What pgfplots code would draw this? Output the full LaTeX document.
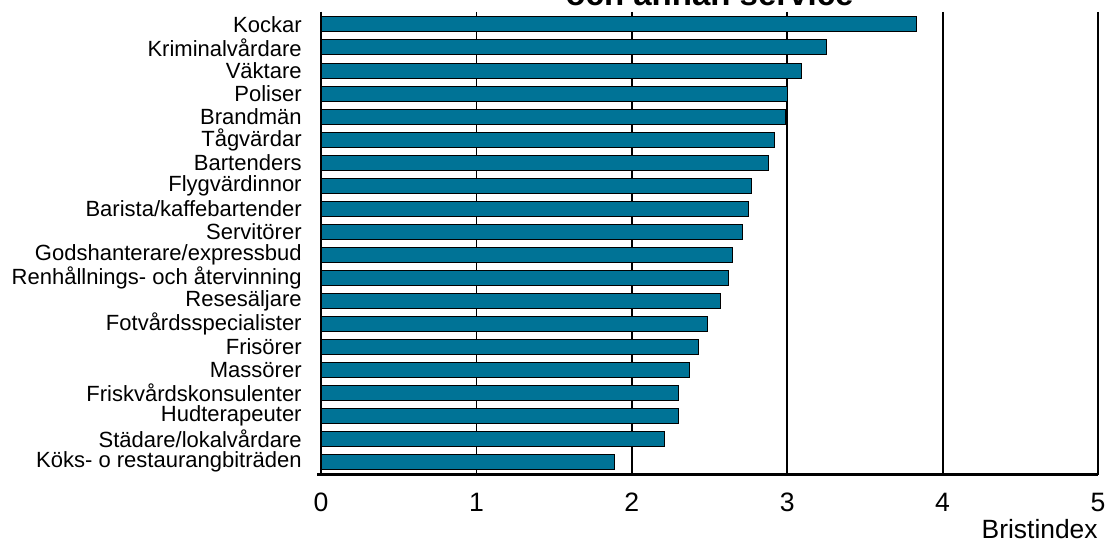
\documentclass[border=0pt]{standalone}
\usepackage{pgfplots}
\pgfplotsset{compat=1.18}
\usepackage{pgfplotstable}
\usepackage{fontspec}
\setmainfont{Liberation Sans}
\definecolor{barblue}{HTML}{007396}

\pgfplotstableread[col sep=comma]{
idx,value
0,3.83
1,3.25
2,3.09
3,3.00
4,2.99
5,2.92
6,2.88
7,2.77
8,2.75
9,2.71
10,2.65
11,2.62
12,2.57
13,2.49
14,2.43
15,2.37
16,2.30
17,2.30
18,2.21
19,1.89
}\bristdata

\newcommand{\tsp}{\hspace{2pt}}

\begin{document}
\begin{tikzpicture}
\begin{axis}[
    name=ax,
    scale only axis,
    width=388.5pt, height=231.5pt,
    xbar, bar width=7.5pt,
    xmin=0, xmax=5,
    ymin=-0.55, ymax=19.55,
    y dir=reverse,
    axis x line*=bottom,
    axis y line*=left,
    x axis line style={line width=1.6pt, shorten <=-2pt},
    y axis line style={line width=0.8pt},
    xtick={0,1,2,3,4,5},
    ytick={0,...,19},
    yticklabels={Kockar\tsp, Kriminalvårdare, Väktare\tsp, Poliser\tsp, Brandmän,
        Tågvärdar, Bartenders\tsp, Flygvärdinnor, Barista/kaffebartender, Servitörer\tsp,
        Godshanterare/expressbud, Renhållnings- och återvinning, Resesäljare\tsp,
        Fotvårdsspecialister\tsp, Frisörer\tsp, Massörer\tsp, Friskvårdskonsulenter,
        Hudterapeuter, Städare/lokalvårdare\tsp, Köks- o restaurangbiträden},
    major tick length=0pt,
    xmajorgrids=true,
    grid style={black, line width=0.9pt},
    /pgf/number format/assume math mode=true,
    xticklabel style={font=\fontsize{13.3}{15}\selectfont, inner sep=0pt, yshift=-9pt},
    yticklabel style={font=\fontsize{11}{13}\selectfont, inner sep=0pt, anchor=east, xshift=-9.5pt},
    xlabel={Bristindex},
    xlabel style={at={(axis description cs:1,0)}, anchor=north east, inner sep=0pt,
        yshift=-22.3pt, font=\fontsize{13.2}{15}\selectfont},
]
\addplot[fill=barblue, draw=black, line width=0.5pt] table[x=value, y=idx] {\bristdata};
\end{axis}
\node[anchor=base, font=\bfseries\fontsize{16.5}{19}\selectfont, yshift=3pt]
    at (ax.north) {och annan service};
\pgfresetboundingbox
\path[use as bounding box] ([xshift=-160.5pt, yshift=-34pt]ax.south west)
    rectangle ([xshift=5.5pt, yshift=5.9pt]ax.north east);
\end{tikzpicture}
\end{document}
